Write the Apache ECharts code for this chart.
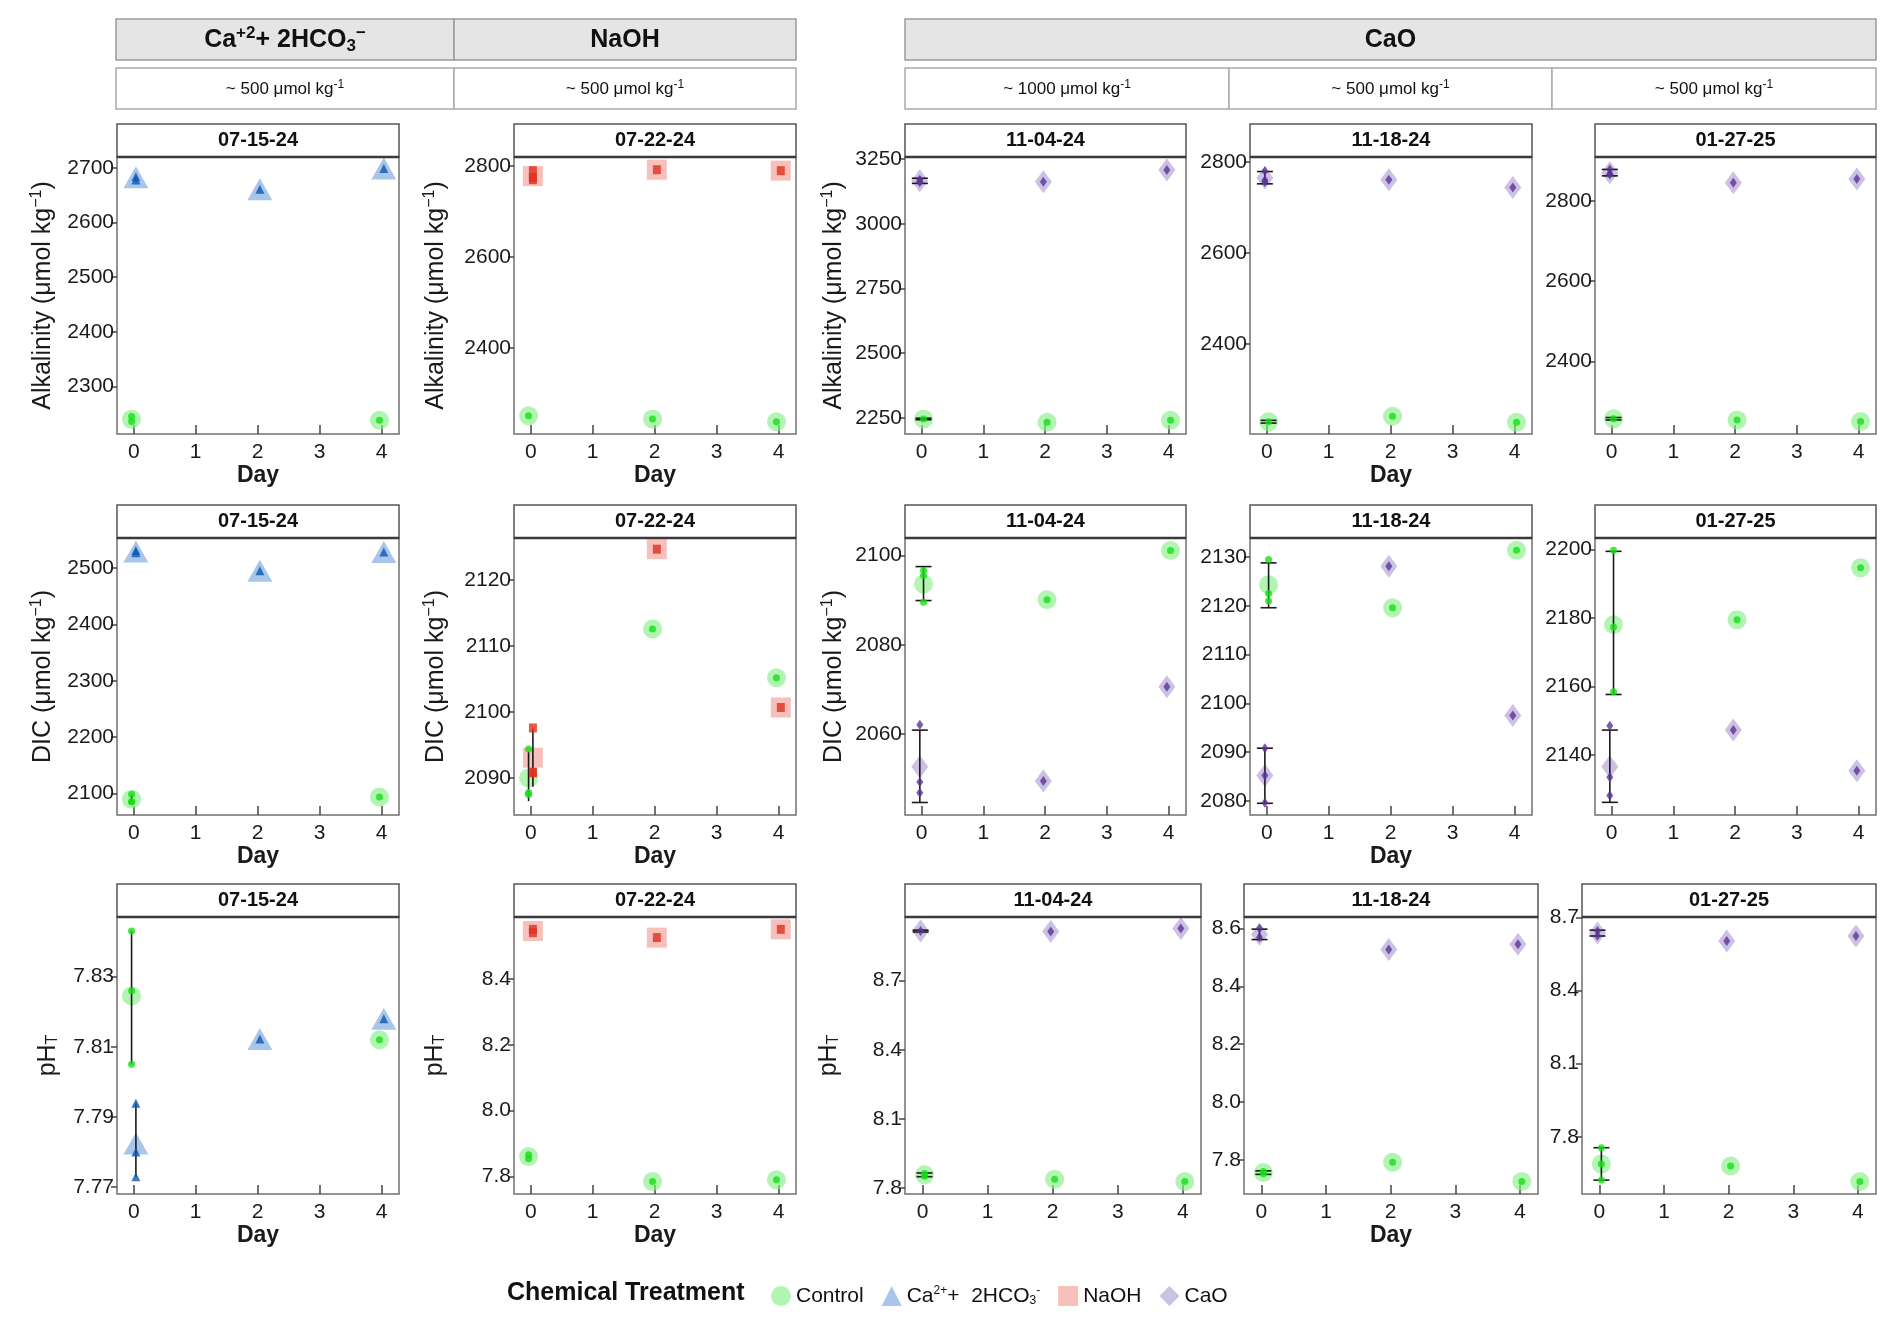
<!DOCTYPE html>
<html>
<head>
    <meta charset="utf-8">
    <title>Chemical Treatment</title>
    <script type="text/javascript" src="https://cdn.jsdelivr.net/npm/echarts@6/dist/echarts.min.js"></script>
    <style>
        body { margin: 0; background: #fff; }
        #main { width: 1892px; height: 1329px; }
    </style>
</head>
<body>
<div id="main"></div>
<script type="text/javascript">
    // panels (columns) and days
    var dates = ['07-15-24', '07-22-24', '11-04-24', '11-18-24', '01-27-25'];
    var days = [0, 2, 4];
    var dayTicks = [0, 1, 2, 3, 4];

    // Alkalinity (umol/kg)
    var alkCtrl = [[2240, null, 2238], [2251, 2244, 2238], [2246, 2233, 2241], [2229, 2241, 2228], [2257, 2254, 2250]];
    var alkTrt = [[2683, 2661, 2699], [2778, 2792, 2790], [3166, 3162, 3208], [2765, 2761, 2744], [2870, 2845, 2854]];
    var alkCtrlRep0 = [[2245, 2236], [2251], [2246], [2229], [2257]];
    var alkTrtRep0 = [[2678, 2684], [2790, 2775, 2770], [3170, 3160, 3165], [2780, 2760, 2756], [2878, 2866, 2867]];
    var alkCtrlErr0 = [null, null, [2243, 2249], [2226, 2232], [2254, 2260]];
    var alkTrtErr0 = [null, null, [3156, 3176], [2752, 2779], [2862, 2878]];
    var alkMin = [2213, 2211, 2188, 2202, 2219];
    var alkMax = [2720, 2820, 3258, 2811, 2909];
    var alkTicks = [[2300, 2400, 2500, 2600, 2700], [2400, 2600, 2800], [2250, 2500, 2750, 3000, 3250], [2400, 2600, 2800], [2400, 2600, 2800]];

    // DIC (umol/kg)
    var dicCtrl = [[2090, null, 2094], [2090, 2112.6, 2105.2], [2093.6, 2090.1, 2101.1], [2124.3, 2119.6, 2131.4], [2178.1, 2179.5, 2194.7]];
    var dicTrt = [[2529, 2495, 2528], [2093.1, 2124.7, 2100.7], [2052.7, 2049.5, 2070.6], [2085.2, 2128.1, 2097.5], [2136.6, 2147.3, 2135.4]];
    var dicCtrlRep0 = [[2099, 2085, 2086], [2094.4, 2087.8, 2087.5], [2096.6, 2095.5, 2089.5], [2129.5, 2122.5, 2121], [2199.8, 2177.4, 2158.5]];
    var dicTrtRep0 = [[2531, 2527], [2097.6, 2090.9, 2090.8], [2062.1, 2049.3, 2046.9], [2090.8, 2085.2, 2079.6], [2148.6, 2133.5, 2128.2]];
    var dicCtrlErr0 = [[2084, 2097], [2086.5, 2094], [2089.9, 2097.5], [2119.6, 2128.8], [2157.7, 2199.5]];
    var dicTrtErr0 = [null, [2088.7, 2097.5], [2044.7, 2060.9], [2079.5, 2090.8], [2126.2, 2147.3]];
    var dicMin = [2062, 2084.4, 2041.9, 2077.1, 2122.5];
    var dicMax = [2553, 2126.4, 2103.9, 2133.9, 2203.4];
    var dicTicks = [[2100, 2200, 2300, 2400, 2500], [2090, 2100, 2110, 2120], [2060, 2080, 2100], [2080, 2090, 2100, 2110, 2120, 2130], [2140, 2160, 2180, 2200]];

    // pH (total scale)
    var phCtrl = [[7.8245, null, 7.812], [7.861, 7.785, 7.79], [7.858, 7.839, 7.829], [7.756, 7.792, 7.725], [7.688, 7.68, 7.616]];
    var phTrt = [[7.7824, 7.8122, 7.818], [8.545, 8.525, 8.55], [8.914, 8.912, 8.925], [8.58, 8.528, 8.546], [8.636, 8.603, 8.624]];
    var phCtrlRep0 = [[7.843, 7.826, 7.805], [7.866, 7.854], [7.864, 7.852], [7.76, 7.752], [7.755, 7.688, 7.622]];
    var phTrtRep0 = [[7.7939, 7.78, 7.7729], [8.55, 8.54], [8.914], [8.6, 8.57], [8.645, 8.625]];
    var phCtrlErr0 = [[7.805, 7.843], null, [7.85, 7.866], [7.75, 7.762], [7.622, 7.755]];
    var phTrtErr0 = [[7.7729, 7.7939], null, [8.91, 8.918], [8.562, 8.598], [8.624, 8.648]];
    var phMin = [7.768, 7.747, 7.775, 7.682, 7.565];
    var phMax = [7.847, 8.5875, 8.975, 8.64, 8.702];
    var phTicks = [[7.77, 7.79, 7.81, 7.83], [7.8, 8.0, 8.2, 8.4], [7.8, 8.1, 8.4, 8.7], [7.8, 8.0, 8.2, 8.4, 8.6], [7.8, 8.1, 8.4, 8.7]];
    var phDecimals = [2, 1, 1, 1, 1];

    var FONT = "'Liberation Sans', Arial, sans-serif";

    // treatment looks
    var trtOfCol = ['Ca', 'NaOH', 'CaO', 'CaO', 'CaO'];
    var look = {
        Control: { symbol: 'circle', size: 19, light: 'rgba(134,238,134,0.8)', dark: '#14e014', small: 7 },
        Ca: { symbol: 'triangle', size: [25, 22], light: 'rgba(110,160,220,0.75)', dark: '#0d56b0', small: [9, 9] },
        NaOH: { symbol: 'rect', size: 20, light: 'rgba(240,150,142,0.75)', dark: '#e0301e', small: [8, 9] },
        CaO: { symbol: 'diamond', size: [17, 23], light: 'rgba(170,150,210,0.75)', dark: '#5a3594', small: [7, 10] }
    };

    var rows = [
        { ctrl: alkCtrl, trt: alkTrt, cRep: alkCtrlRep0, tRep: alkTrtRep0, cErr: alkCtrlErr0, tErr: alkTrtErr0, min: alkMin, max: alkMax, ticks: alkTicks,
          dec: [0, 0, 0, 0, 0], name: 'Alkalinity (μmol kg{sup|−1})', gaps: [60, 64, 57] },
        { ctrl: dicCtrl, trt: dicTrt, cRep: dicCtrlRep0, tRep: dicTrtRep0, cErr: dicCtrlErr0, tErr: dicTrtErr0, min: dicMin, max: dicMax, ticks: dicTicks,
          dec: [0, 0, 0, 0, 0], name: 'DIC (μmol kg{sup|−1})', gaps: [60, 64, 57] },
        { ctrl: phCtrl, trt: phTrt, cRep: phCtrlRep0, tRep: phTrtRep0, cErr: phCtrlErr0, tErr: phTrtErr0, min: phMin, max: phMax, ticks: phTicks,
          dec: phDecimals, name: 'pH{sub|T}', gaps: [56, 66, 63] }
    ];

    // layout (px)
    var colLeft = [[117, 514, 905, 1250, 1595], [117, 514, 905, 1250, 1595], [117, 514, 905, 1244, 1582]];
    var colW = [[282, 282, 281, 282, 281], [282, 282, 281, 282, 281], [282, 282, 296, 294, 294]];
    var rowTop = [157, 538, 917];
    var rowH = 277;
    var stripH = 33;
    var capW = [0, 0, 8, 8, 8];

    var grids = [], xAxes = [], yAxes = [], series = [], graphics = [];

    function meanData(vals, dx) {
        var out = [];
        for (var i = 0; i < days.length; i++) {
            if (vals[i] != null) out.push([days[i] + dx, vals[i]]);
        }
        return out;
    }
    function repData(rep0, vals, dx) {
        var out = [];
        for (var i = 0; i < rep0.length; i++) out.push([dx, rep0[i]]);
        for (var j = 1; j < days.length; j++) {
            if (vals[j] != null) out.push([days[j] + dx, vals[j]]);
        }
        return out;
    }
    function fixed(d) {
        return function (v) { return Number(v).toFixed(d); };
    }

    function errRender(params, api) {
        var x = api.value(0), lo = api.value(1), hi = api.value(2), w = api.value(3);
        var a = api.coord([x, lo]), b = api.coord([x, hi]);
        var st = { stroke: '#1a1a1a', lineWidth: 1.6 };
        var kids = [{ type: 'line', shape: { x1: a[0], y1: a[1], x2: b[0], y2: b[1] }, style: st }];
        if (w > 0) {
            kids.push({ type: 'line', shape: { x1: a[0] - w, y1: a[1], x2: a[0] + w, y2: a[1] }, style: st });
            kids.push({ type: 'line', shape: { x1: b[0] - w, y1: b[1], x2: b[0] + w, y2: b[1] }, style: st });
        }
        return { type: 'group', children: kids };
    }

    for (var r = 0; r < 3; r++) {
        var R = rows[r];
        for (var c = 0; c < 5; c++) {
            var g = r * 5 + c;
            var pLeft = colLeft[r][c], pW = colW[r][c], pTop = rowTop[r];
            grids.push({ left: pLeft, top: pTop, width: pW, height: rowH, show: true,
                borderColor: '#707070', borderWidth: 1.5, backgroundColor: '#fff' });

            var showDay = (c === 0 || c === 1 || c === 3);
            xAxes.push({
                gridIndex: g, type: 'value', min: -0.27, max: 4.28,
                axisLine: { show: false, onZero: false },
                axisTick: { show: true, inside: true, length: 9, customValues: dayTicks, lineStyle: { color: '#444', width: 1.5 } },
                axisLabel: { customValues: dayTicks, fontSize: 21, fontFamily: FONT, color: '#1a1a1a', margin: 8 },
                splitLine: { show: false },
                name: showDay ? 'Day' : '', nameLocation: 'middle', nameGap: 30,
                nameTextStyle: { fontSize: 23, fontWeight: 'bold', fontFamily: FONT, color: '#1a1a1a' }
            });
            yAxes.push({
                gridIndex: g, type: 'value', min: R.min[c], max: R.max[c],
                axisLine: { show: false, onZero: false },
                axisTick: { show: true, length: 6, customValues: R.ticks[c], lineStyle: { color: '#444', width: 1.5 } },
                axisLabel: { customValues: R.ticks[c], formatter: fixed(R.dec[c]), fontSize: 21, fontFamily: FONT, color: '#1a1a1a', margin: 3 },
                splitLine: { show: false },
                name: c < 3 ? R.name : '', nameLocation: 'middle', nameRotate: 90, nameGap: c < 3 ? R.gaps[c] : 0,
                nameTextStyle: { fontSize: 25, fontFamily: FONT, color: '#1a1a1a',
                    rich: { sup: { fontSize: 16, fontFamily: FONT, padding: [0, 0, 12, 0] },
                            sub: { fontSize: 16, fontFamily: FONT, padding: [10, 0, 0, 0] } } }
            });

            var tName = trtOfCol[c];
            var ctrlDx = c < 2 ? -0.035 : 0.03;
            var trtDx = -ctrlDx;
            var lc = look.Control, lt = look[tName];

            // big translucent means
            series.push({ type: 'scatter', name: 'Control', xAxisIndex: g, yAxisIndex: g, z: 2,
                symbol: lc.symbol, symbolSize: lc.size, itemStyle: { color: lc.light },
                data: meanData(R.ctrl[c], ctrlDx), silent: true });
            series.push({ type: 'scatter', name: tName, xAxisIndex: g, yAxisIndex: g, z: 2,
                symbol: lt.symbol, symbolSize: lt.size, itemStyle: { color: lt.light },
                data: meanData(R.trt[c], trtDx), silent: true });

            // error bars at day 0
            var errs = [];
            if (R.cErr[c]) errs.push([ctrlDx, R.cErr[c][0], R.cErr[c][1], capW[c]]);
            if (R.tErr[c]) errs.push([trtDx, R.tErr[c][0], R.tErr[c][1], capW[c]]);
            if (errs.length) {
                series.push({ type: 'custom', name: 'err' + g, xAxisIndex: g, yAxisIndex: g, z: 3,
                    renderItem: errRender, encode: { x: 0, y: [1, 2] }, data: errs, silent: true });
            }

            // small replicate points
            series.push({ type: 'scatter', name: 'ctrlRep' + g, xAxisIndex: g, yAxisIndex: g, z: 4,
                symbol: lc.symbol, symbolSize: lc.small, itemStyle: { color: lc.dark },
                data: repData(R.cRep[c], R.ctrl[c], ctrlDx), silent: true });
            series.push({ type: 'scatter', name: 'trtRep' + g, xAxisIndex: g, yAxisIndex: g, z: 4,
                symbol: lt.symbol, symbolSize: lt.small, itemStyle: { color: lt.dark },
                data: repData(R.tRep[c], R.trt[c], trtDx), silent: true });

            // facet strip with the date
            graphics.push({ type: 'rect', shape: { x: pLeft, y: pTop - stripH, width: pW, height: stripH },
                style: { fill: '#fff', stroke: '#555', lineWidth: 1.5 }, z: 10 });
            graphics.push({ type: 'line', shape: { x1: pLeft, y1: pTop, x2: pLeft + pW, y2: pTop },
                style: { stroke: '#3a3a3a', lineWidth: 2.5 }, z: 11 });
            graphics.push({ type: 'text', x: pLeft + pW / 2, y: pTop - stripH / 2, z: 12,
                style: { text: dates[c], fontSize: 20, fontWeight: 'bold', fontFamily: FONT, fill: '#111',
                    align: 'center', verticalAlign: 'middle' } });
        }
    }

    // top header strips: treatment and dose
    var heads = [
        { x: 116, w: 338, text: 'Ca{sup|+2}+ 2HCO{sub|3}{sup|−}' },
        { x: 454, w: 342, text: 'NaOH' },
        { x: 905, w: 971, text: 'CaO' }
    ];
    var doses = [
        { x: 116, w: 338, text: '~ 500 μmol kg{s|-1}' },
        { x: 454, w: 342, text: '~ 500 μmol kg{s|-1}' },
        { x: 905, w: 324, text: '~ 1000 μmol kg{s|-1}' },
        { x: 1229, w: 323, text: '~ 500 μmol kg{s|-1}' },
        { x: 1552, w: 324, text: '~ 500 μmol kg{s|-1}' }
    ];
    heads.forEach(function (h) {
        graphics.push({ type: 'rect', shape: { x: h.x, y: 19, width: h.w, height: 41 },
            style: { fill: '#e5e5e5', stroke: '#9a9a9a', lineWidth: 1.5 } });
        graphics.push({ type: 'text', x: h.x + h.w / 2, y: 40,
            style: { text: h.text, fontSize: 25, fontWeight: 'bold', fontFamily: FONT, fill: '#111',
                align: 'center', verticalAlign: 'middle',
                rich: {
                    sup: { fontSize: 17, fontFamily: FONT, fontWeight: 'bold', padding: [0, 0, 14, 0] },
                    sub: { fontSize: 17, fontFamily: FONT, fontWeight: 'bold', padding: [12, 0, 0, 0] }
                } } });
    });
    doses.forEach(function (d) {
        graphics.push({ type: 'rect', shape: { x: d.x, y: 68, width: d.w, height: 41 },
            style: { fill: '#fff', stroke: '#aaa', lineWidth: 1.5 } });
        graphics.push({ type: 'text', x: d.x + d.w / 2, y: 89,
            style: { text: d.text, fontSize: 17, fontFamily: FONT, fill: '#111',
                align: 'center', verticalAlign: 'middle',
                rich: { s: { fontSize: 12, fontFamily: FONT, padding: [0, 0, 9, 0] } } } });
    });

    // legend title
    graphics.push({ type: 'text', x: 507, y: 1293,
        style: { text: 'Chemical Treatment', fontSize: 25, fontWeight: 'bold', fontFamily: FONT, fill: '#111',
            verticalAlign: 'middle' } });

    var myChart = echarts.init(document.getElementById('main'));
    var option = {
        animation: false,
        backgroundColor: '#fff',
        grid: grids,
        xAxis: xAxes,
        yAxis: yAxes,
        legend: {
            data: ['Control', 'Ca', 'NaOH', 'CaO'],
            left: 766, top: 1280,
            itemWidth: 20, itemHeight: 20, itemGap: 18,
            selectedMode: false,
            formatter: function (n) {
                return n === 'Ca' ? 'Ca{sup|2+}+  2HCO{sub|3}{sup|-}' : n;
            },
            textStyle: {
                fontSize: 21, fontFamily: FONT, color: '#111',
                rich: {
                    sup: { fontSize: 12, fontFamily: FONT, padding: [0, 0, 10, 0] },
                    sub: { fontSize: 12, fontFamily: FONT, padding: [10, 0, 0, 0] }
                }
            }
        },
        graphic: graphics,
        series: series
    };
    myChart.setOption(option);
</script>
</body>
</html>
